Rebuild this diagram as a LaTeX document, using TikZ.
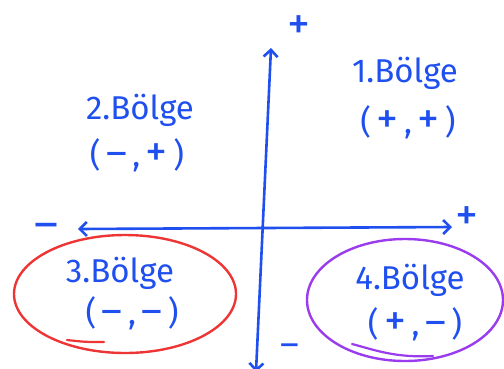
\documentclass[tikz,border=0pt]{standalone}
\usepackage{fontspec}
\setmainfont{Fira Sans}
\usetikzlibrary{shapes.geometric,arrows.meta}
\definecolor{pen}{HTML}{1F4FEF}
\definecolor{penred}{HTML}{EE3535}
\definecolor{penpurple}{HTML}{9A3BEE}
\newcommand{\bigpl}{{\fontsize{44}{44}\selectfont +}}
\newcommand{\bigmi}{{\fontsize{40}{44}\selectfont –}}
\tikzset{
  axis/.style={pen, line width=2.6pt, line cap=round, {Straight Barb[length=7pt,width=14pt]}-{Straight Barb[length=7pt,width=14pt]}},
  lbl/.style={pen, font=\fontsize{33}{36}\selectfont, inner sep=0pt, align=center},
  sign/.style={pen, font=\fontsize{46}{46}\selectfont, inner sep=0pt},
  ring/.style={ellipse, line width=2.4pt, inner sep=0pt}
}
\begin{document}
\begin{tikzpicture}[x=1pt,y=-1pt]
\useasboundingbox (0,0) rectangle (504,368);
% axes
\coordinate (yb) at (256,372);
\coordinate (yt) at (271,48);
\coordinate (xl) at (78,229);
\coordinate (xr) at (452,227);
\draw[axis] (xl) -- (xr);
\draw[axis] (yb) -- (yt);
% axis signs
\node[sign] (ptop) at (299,28) {+};
\node[sign] (mleft) at (46,231) {–};
\node[sign] (pright) at (467,219) {+};
\node[sign, font=\fontsize{36}{36}\selectfont] (mbot) at (290,350) {–};
% quadrant labels
\node[lbl] (q1) at (405,73) {1.Bölge};
\node[lbl] (q1s) at (408,122) {(\,\bigpl\,,\,\bigpl\,)};
\node[lbl] (q2) at (140,110) {2.Bölge};
\node[lbl] (q2s) at (137,155) {(\,\bigmi\,,\,\bigpl\,)};
\node[lbl] (q3) at (120,273) {3.Bölge};
\node[lbl] (q3s) at (132,313) {(\,\bigmi\,,\,\bigmi\,)};
\node[lbl] (q4) at (410,280) {4.Bölge};
\node[lbl] (q4s) at (415,324) {(\,\bigpl\,,\,\bigmi\,)};
% circles
\node[ring, draw=penred, minimum width=222pt, minimum height=118pt] (c3) at (125,294) {};
\node[ring, draw=penpurple, minimum width=196pt, minimum height=122pt] (c4) at (405,300) {};
% underline strokes
\draw[penred, line width=2.2pt, line cap=round] (67,340) .. controls (85,342) .. (104,342);
\draw[penpurple, line width=2.2pt, line cap=round] (352,344) .. controls (375,350) and (395,358) .. (433,356);
\end{tikzpicture}
\end{document}
